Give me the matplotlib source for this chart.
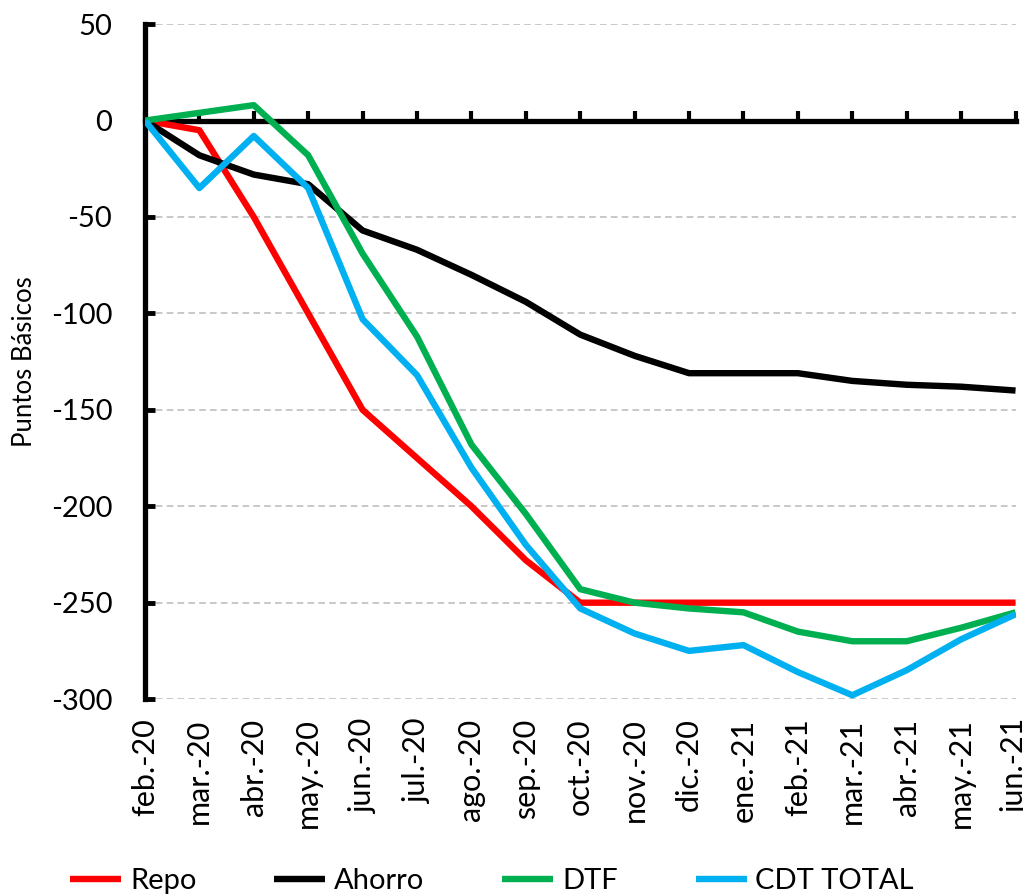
import matplotlib.pyplot as plt
import numpy as np

plt.rcParams['font.family'] = ['Lato', 'DejaVu Sans']
plt.rcParams['axes.unicode_minus'] = False

meses = ['feb.-20', 'mar.-20', 'abr.-20', 'may.-20', 'jun.-20', 'jul.-20', 'ago.-20',
         'sep.-20', 'oct.-20', 'nov.-20', 'dic.-20', 'ene.-21', 'feb.-21', 'mar.-21',
         'abr.-21', 'may.-21', 'jun.-21']

repo = [0, -5, -50, -100, -150, -175, -200, -228, -250, -250, -250, -250, -250, -250,
        -250, -250, -250]
ahorro = [0, -18, -28, -33, -57, -67, -80, -94, -111, -122, -131, -131, -131, -135,
          -137, -138, -140]
dtf = [0, 4, 8, -18, -69, -112, -168, -204, -243, -250, -253, -255, -265, -270,
       -270, -263, -255]
cdt = [0, -35, -8, -35, -103, -132, -180, -220, -253, -266, -275, -272, -286, -298,
       -285, -269, -256]

series = [('Repo', repo, '#FF0000'), ('Ahorro', ahorro, '#000000'),
          ('DTF', dtf, '#00B050'), ('CDT TOTAL', cdt, '#00B0F0')]

fig = plt.figure(figsize=(10.23, 8.94), dpi=100)
ax = fig.add_axes([0.1417, 0.218, 0.851, 0.755])

x = np.arange(len(meses))
for nombre, vals, color in series:
    ax.plot(x, vals, color=color, lw=4.6, label=nombre, solid_capstyle='butt', zorder=3)

ax.set_xlim(0, len(meses) - 1)
ax.set_ylim(-300, 50)
ax.set_yticks(np.arange(-300, 51, 50))
ax.yaxis.grid(True, color='#BFBFBF', ls=(0, (4, 2.5)), lw=1.2)
ax.set_axisbelow(True)

for s in ['top', 'right', 'bottom']:
    ax.spines[s].set_visible(False)
ax.spines['left'].set_linewidth(3.8)
ax.tick_params(axis='y', direction='in', length=7, width=3.5, labelsize=21, pad=23.5)

ax.set_xticks(x)
ax.set_xticklabels(meses, rotation=90, fontsize=22)
ax.tick_params(axis='x', length=0, pad=14)
ax.set_ylabel('Puntos Básicos', fontsize=18.5, labelpad=10)

# linea del cero con marcas hacia arriba
cero = ax.secondary_xaxis(0, transform=ax.transData)
cero.set_zorder(2)
cero.spines['bottom'].set_linewidth(3.8)
cero.set_xticks(x)
cero.tick_params(axis='x', direction='in', length=7, width=3, labelbottom=False)

fig.legend(loc='center', bbox_to_anchor=(0.481, 0.014), ncol=4, frameon=False,
           fontsize=21, handlelength=1.75, handletextpad=0.3, columnspacing=2.67)

fig.savefig('out.png', dpi=100)
